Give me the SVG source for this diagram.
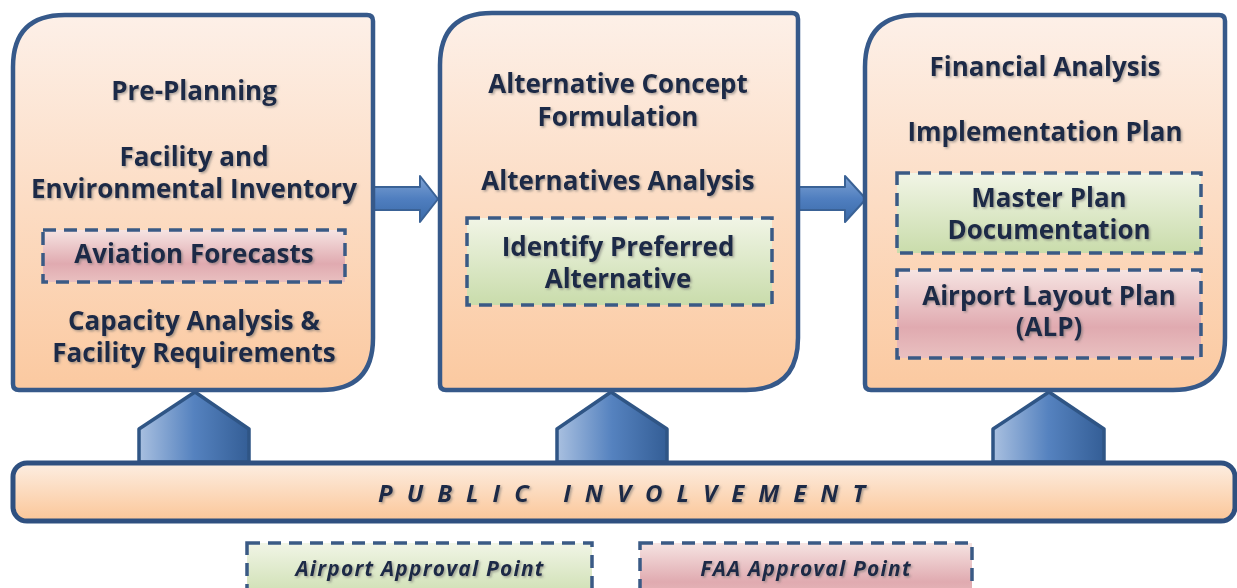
<svg xmlns="http://www.w3.org/2000/svg" width="1237" height="588" viewBox="0 0 1237 588">
<defs>
<linearGradient id="peach" x1="0" y1="0" x2="0" y2="1">
<stop offset="0" stop-color="#fdf0e8"/>
<stop offset="1" stop-color="#fbc9a0"/>
</linearGradient>
<linearGradient id="barg" x1="0" y1="0" x2="0" y2="1">
<stop offset="0" stop-color="#fdeee2"/>
<stop offset="1" stop-color="#fbc698"/>
</linearGradient>
<linearGradient id="pink" x1="0" y1="0" x2="0" y2="1">
<stop offset="0" stop-color="#f6e4e2"/>
<stop offset="0.65" stop-color="#e0aab0"/>
<stop offset="1" stop-color="#e9c0c0"/>
</linearGradient>
<linearGradient id="green" x1="0" y1="0" x2="0" y2="1">
<stop offset="0" stop-color="#f1f5e6"/>
<stop offset="1" stop-color="#c9dcab"/>
</linearGradient>
<linearGradient id="blueh" x1="0" y1="0" x2="1" y2="0">
<stop offset="0" stop-color="#a9c0e0"/>
<stop offset="0.5" stop-color="#5582bf"/>
<stop offset="1" stop-color="#345e96"/>
</linearGradient>
<linearGradient id="bluev" x1="0" y1="0" x2="0" y2="1">
<stop offset="0" stop-color="#7fa3d4"/>
<stop offset="0.5" stop-color="#4f7ebf"/>
<stop offset="1" stop-color="#3a6aa8"/>
</linearGradient>
<filter id="sh" x="-10%" y="-30%" width="120%" height="160%">
<feDropShadow dx="1.5" dy="1.5" stdDeviation="0.8" flood-color="#666" flood-opacity="0.55"/>
</filter>
</defs>
<style>
.box{fill:url(#peach);stroke:#36598a;stroke-width:4.5}
.bar{fill:url(#barg);stroke:#2f5080;stroke-width:5}
.dash{stroke:#3a5a85;stroke-width:3.5;stroke-dasharray:13 8}
.pk{fill:url(#pink)}
.gr{fill:url(#green)}
.pent{fill:url(#blueh);stroke:#2f5585;stroke-width:3.5;stroke-linejoin:round}
.arr{fill:url(#bluev);stroke:#3a6296;stroke-width:2;stroke-linejoin:round}
text{font-family:"Open Sans","DejaVu Sans",sans-serif;font-weight:bold;fill:#1f2a46;text-anchor:middle;filter:url(#sh)}
.t{font-size:26px}
.leg{font-size:21px;font-style:italic;letter-spacing:1.2px}
.pub{font-size:24px;font-style:italic;text-anchor:start;letter-spacing:14px}
</style>

<g id="connectors">
<path class="pent" d="M139,462 L139,429 L195,392 L249,429 L249,462 Z"/>
<path class="pent" d="M557,462 L557,429 L611,392 L667,429 L667,462 Z"/>
<path class="pent" d="M993,462 L993,429 L1049,392 L1104,429 L1104,462 Z"/>
<path class="arr" d="M373,187 L420,187 L420,176 L438,199 L420,222 L420,210 L373,210 Z"/>
<path class="arr" d="M798,187 L845,187 L845,176 L866,199 L845,222 L845,210 L798,210 Z"/>
</g>

<g id="public-involvement">
<rect class="bar" x="13" y="463" width="1222" height="58" rx="14"/>
<text class="pub" x="378" y="502">PUBLIC INVOLVEMENT</text>
</g>

<g id="box1">
<path class="box" d="M65,15 L367,15 Q373,15 373,21 L373,338 Q373,390 321,390 L19,390 Q13,390 13,384 L13,67 Q13,15 65,15 Z"/>
<text class="t" x="194" y="100">Pre-Planning</text>
<text class="t" x="194" y="166">Facility and</text>
<text class="t" x="194" y="198">Environmental Inventory</text>
<rect class="dash pk" x="43" y="230" width="302" height="52"/>
<text class="t" x="194" y="263">Aviation Forecasts</text>
<text class="t" x="194" y="330">Capacity Analysis &amp;</text>
<text class="t" x="194" y="362">Facility Requirements</text>
</g>

<g id="box2">
<path class="box" d="M492,13 L792,13 Q798,13 798,19 L798,338 Q798,390 746,390 L446,390 Q440,390 440,384 L440,65 Q440,13 492,13 Z"/>
<text class="t" x="618" y="93">Alternative Concept</text>
<text class="t" x="618" y="126">Formulation</text>
<text class="t" x="618" y="190">Alternatives Analysis</text>
<rect class="dash gr" x="467" y="218" width="305" height="87"/>
<text class="t" x="618" y="256">Identify Preferred</text>
<text class="t" x="618" y="288">Alternative</text>
</g>

<g id="box3">
<path class="box" d="M917,15 L1219,15 Q1225,15 1225,21 L1225,338 Q1225,390 1173,390 L871,390 Q865,390 865,384 L865,67 Q865,15 917,15 Z"/>
<text class="t" x="1045" y="76">Financial Analysis</text>
<text class="t" x="1045" y="141">Implementation Plan</text>
<rect class="dash gr" x="897" y="173" width="304" height="80"/>
<text class="t" x="1049" y="207">Master Plan</text>
<text class="t" x="1049" y="239">Documentation</text>
<rect class="dash pk" x="897" y="270" width="304" height="88"/>
<text class="t" x="1049" y="305">Airport Layout Plan</text>
<text class="t" x="1049" y="336">(ALP)</text>
</g>

<g id="legend-airport">
<rect class="dash gr" x="247" y="543" width="345" height="60"/>
<text class="leg" x="420" y="576">Airport Approval Point</text>
</g>
<g id="legend-faa">
<rect class="dash pk" x="640" y="543" width="332" height="60"/>
<text class="leg" x="806" y="576">FAA Approval Point</text>
</g>
</svg>
